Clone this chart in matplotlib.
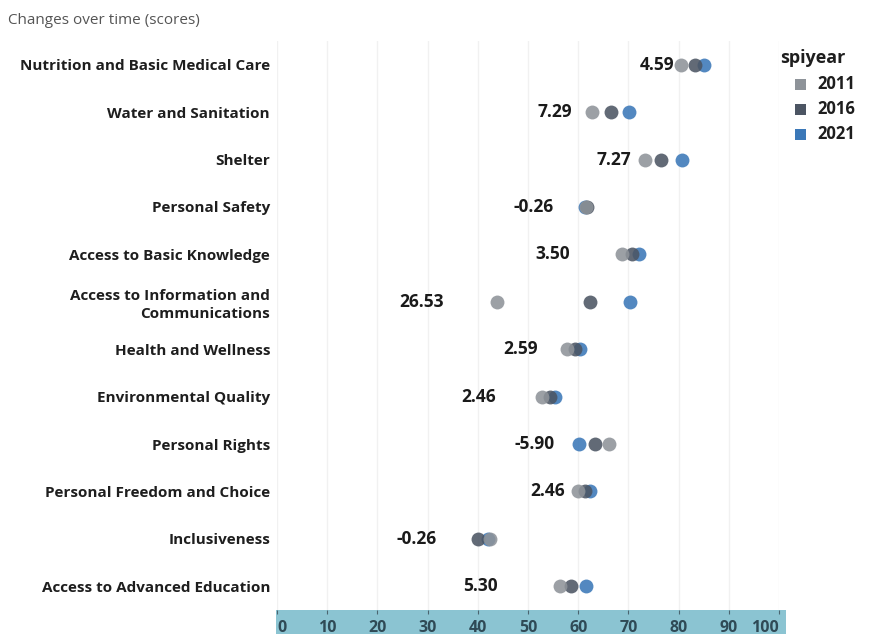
import matplotlib
matplotlib.use('Agg')
import matplotlib.pyplot as plt
from matplotlib.patches import Rectangle
import numpy as np

plt.rcParams['font.family'] = ['Open Sans', 'DejaVu Sans']

categories = ['Nutrition and Basic Medical Care', 'Water and Sanitation', 'Shelter',
              'Personal Safety', 'Access to Basic Knowledge',
              'Access to Information and\nCommunications', 'Health and Wellness',
              'Environmental Quality', 'Personal Rights', 'Personal Freedom and Choice',
              'Inclusiveness', 'Access to Advanced Education']
years = ['2011', '2016', '2021']
score_2011 = [80.5, 62.8, 73.4, 61.6, 68.7, 43.8, 57.8, 52.8, 66.1, 59.9, 42.4, 56.3]
score_2016 = [83.3, 66.6, 76.5, 61.8, 70.8, 62.3, 59.3, 54.3, 63.3, 61.3, 40.0, 58.6]
score_2021 = [85.1, 70.1, 80.7, 61.3, 72.2, 70.3, 60.4, 55.3, 60.2, 62.4, 42.1, 61.6]
change = ['4.59', '7.29', '7.27', '-0.26', '3.50', '26.53', '2.59', '2.46', '-5.90', '2.46', '-0.26', '5.30']
# right edge of each change label (axis units)
label_x = [79.1, 58.8, 70.6, 55.1, 58.4, 33.2, 52.0, 43.6, 55.3, 57.4, 31.8, 43.9]

colors = {'2011': '#8e9399', '2016': '#4c5563', '2021': '#3b78b8'}

fig = plt.figure(figsize=(8.7, 6.34), dpi=100)
W, H = 870, 634
ax = fig.add_axes([277 / W, 24 / H, (779 - 277) / W, (593 - 24) / H])

y = np.arange(len(categories))
series = {'2011': score_2011, '2016': score_2016, '2021': score_2021}
for yr in ['2021', '2016', '2011']:
    ax.scatter(series[yr], y, s=100, color=colors[yr], alpha=0.88, linewidths=0, zorder=3)

for i in range(len(categories)):
    ax.text(label_x[i], y[i], change[i], ha='right', va='center', fontsize=12.5,
            fontweight='bold', color='#1a1a1a', zorder=4)

ax.set_xlim(0, 100)
ax.set_ylim(len(categories) - 0.5, -0.5)
ax.set_yticks(y)
ax.set_yticklabels(categories, fontsize=11, fontweight='bold', color='#1e1e1e', linespacing=1.3)
ax.tick_params(axis='y', length=0, pad=5)
ax.set_xticks(np.arange(0, 101, 10))
ax.tick_params(axis='x', length=3, color='#4a6570', pad=4, labelsize=11.5, labelcolor='#2f4a56')
for t in ax.get_xticklabels():
    t.set_fontweight('bold')
xl = ax.get_xticklabels()
xl[0].set_ha('left')
xl[-1].set_ha('right')
ax.grid(axis='x', color='#f1f1f1', linewidth=1, zorder=0)
ax.set_axisbelow(True)
for s in ax.spines.values():
    s.set_visible(False)

# axis band under the tick labels
ax.add_patch(Rectangle((-1 / (779 - 277), -24 / (593 - 24)), 510 / (779 - 277), 24 / (593 - 24),
                       transform=ax.transAxes, clip_on=False, facecolor='#8bc4d2',
                       edgecolor='none', zorder=0))

fig.text(8 / W, 1 - 20 / H, 'Changes over time (scores)', fontsize=11, color='#555555',
         va='center', ha='left')

# legend
fig.text(780 / W, 1 - 58 / H, 'spiyear', fontsize=13, fontweight='bold', color='#1e1e1e',
         va='center', ha='left')
for k, yr in enumerate(years):
    yy = 1 - (84 + 25 * k) / H
    fig.patches.append(Rectangle((795 / W, yy - 5.5 / H), 11 / W, 11 / H, transform=fig.transFigure,
                                 facecolor=colors[yr], edgecolor='none'))
    fig.text(817 / W, yy, yr, fontsize=12, fontweight='bold', color='#1e1e1e',
             va='center', ha='left')

fig.savefig('out.png', dpi=100)
